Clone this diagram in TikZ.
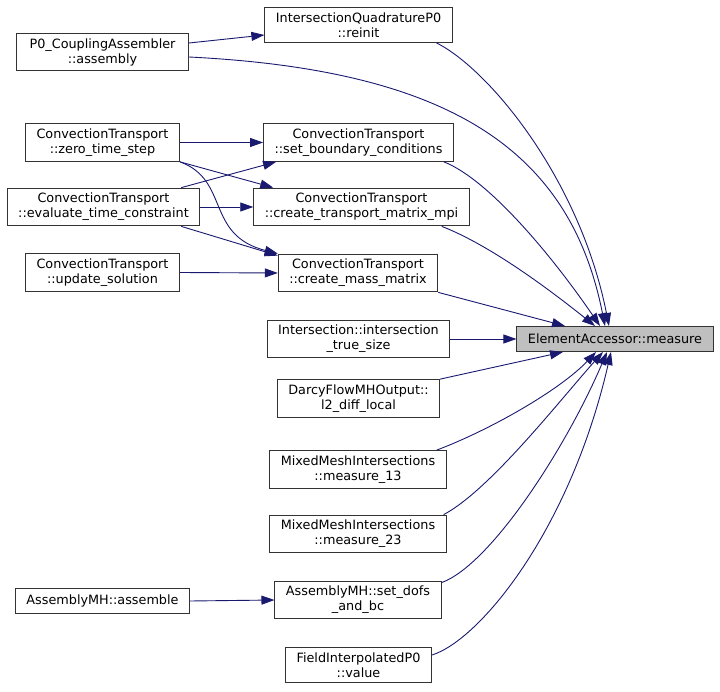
\documentclass[tikz,border=0pt]{standalone}
\usepackage{fontspec}
\setmainfont{DejaVu Sans}
\usepackage{xcolor}
\usepackage{tikz}
\usetikzlibrary{arrows.meta,positioning,calc}

\definecolor{edgeblue}{HTML}{191970}
\definecolor{rootgray}{HTML}{BFBFBF}

\begin{document}
\begin{tikzpicture}[x=1pt, y=-1pt,
    func/.style={draw=black!80, line width=1pt, rectangle, fill=white, align=center,
        font=\fontsize{12.8}{15}\selectfont, inner xsep=11pt, inner ysep=5pt, minimum height=25pt},
    root/.style={func, fill=rootgray},
    call/.style={-{Triangle[length=13pt, width=9pt]}, edgeblue, line width=0.9pt}
]
\useasboundingbox (0,0) rectangle (720,692);

% Target
\node[root] (measure) at (615, 339) {ElementAccessor::measure};

% Direct callers
\node[func] (reinit) at (358.5, 25) {IntersectionQuadratureP0\\::reinit};
\node[func] (setbc) at (358.5, 142.5) {ConvectionTransport\\::set\_boundary\_conditions};
\node[func] (ctm) at (361.5, 207) {ConvectionTransport\\::create\_transport\_matrix\_mpi};
\node[func] (cmm) at (358, 273) {ConvectionTransport\\::create\_mass\_matrix};
\node[func] (its) at (358.5, 339) {Intersection::intersection\\\_true\_size};
\node[func] (l2) at (358.5, 398.5) {DarcyFlowMHOutput::\\l2\_diff\_local};
\node[func] (m13) at (358, 469.5) {MixedMeshIntersections\\::measure\_13};
\node[func] (m23) at (358, 534) {MixedMeshIntersections\\::measure\_23};
\node[func] (sdb) at (358, 600) {AssemblyMH::set\_dofs\\\_and\_bc};
\node[func] (fip) at (358.5, 665) {FieldInterpolatedP0\\::value};

% Second level callers
\node[func, minimum width=172pt] (p0ca) at (102.5, 52) {P0\_CouplingAssembler\\::assembly};
\node[func] (zts) at (102.5, 142.5) {ConvectionTransport\\::zero\_time\_step};
\node[func] (etc) at (103.5, 207) {ConvectionTransport\\::evaluate\_time\_constraint};
\node[func] (upd) at (102.5, 272.5) {ConvectionTransport\\::update\_solution};
\node[func] (asm) at (102.5, 601) {AssemblyMH::assemble};

% Calls on the left
\draw[call] ([yshift=9pt]p0ca.east) -- ([yshift=-10pt]reinit.west);
\draw[call] (zts.east) -- (setbc.west);
\draw[call] ([xshift=-19pt]etc.north east) -- ([xshift=13pt]setbc.south west);
\draw[call] (zts.south east) -- ([xshift=20pt]ctm.north west);
\draw[call] (etc.east) -- (ctm.west);
\draw[call] (zts.south east) .. controls (230,180) and (205,235) .. (cmm.north west);
\draw[call] ([xshift=-19pt]etc.south east) -- ([yshift=-2pt]cmm.north west);
\draw[call] (upd.east) -- (cmm.west);
\draw[call] (asm.east) -- (sdb.west);

% Calls into the target
\draw[call] ([yshift=-5pt]p0ca.east) .. controls (450,70) and (570,150) .. ([xshift=-10pt]measure.north);
\draw[call] ([xshift=-16pt]reinit.south east) .. controls (490,70) and (580,180) .. ([xshift=-6pt]measure.north);
\draw[call] ([xshift=-10pt]setbc.south east) .. controls (490,180) and (555,260) .. ([xshift=-15pt]measure.north);
\draw[call] ([xshift=-28pt]ctm.south east) .. controls (490,245) and (550,290) .. ([xshift=-20pt]measure.north);
\draw[call] (cmm.south east) -- ([xshift=-50pt]measure.north);
\draw[call] (its.east) -- (measure.west);
\draw[call] (l2.north east) -- ([xshift=-52pt]measure.south);
\draw[call] ([xshift=-10pt]m13.north east) .. controls (490,430) and (560,390) .. ([xshift=-19pt]measure.south);
\draw[call] ([xshift=-3pt]m23.north east) .. controls (490,490) and (560,400) .. ([xshift=-12pt]measure.south);
\draw[call] ([yshift=-2pt]sdb.north east) .. controls (490,565) and (565,450) .. ([xshift=-8pt]measure.south);
\draw[call] ([yshift=-8pt]fip.north east) .. controls (480,640) and (570,530) .. ([xshift=-4pt]measure.south);

\end{tikzpicture}
\end{document}
